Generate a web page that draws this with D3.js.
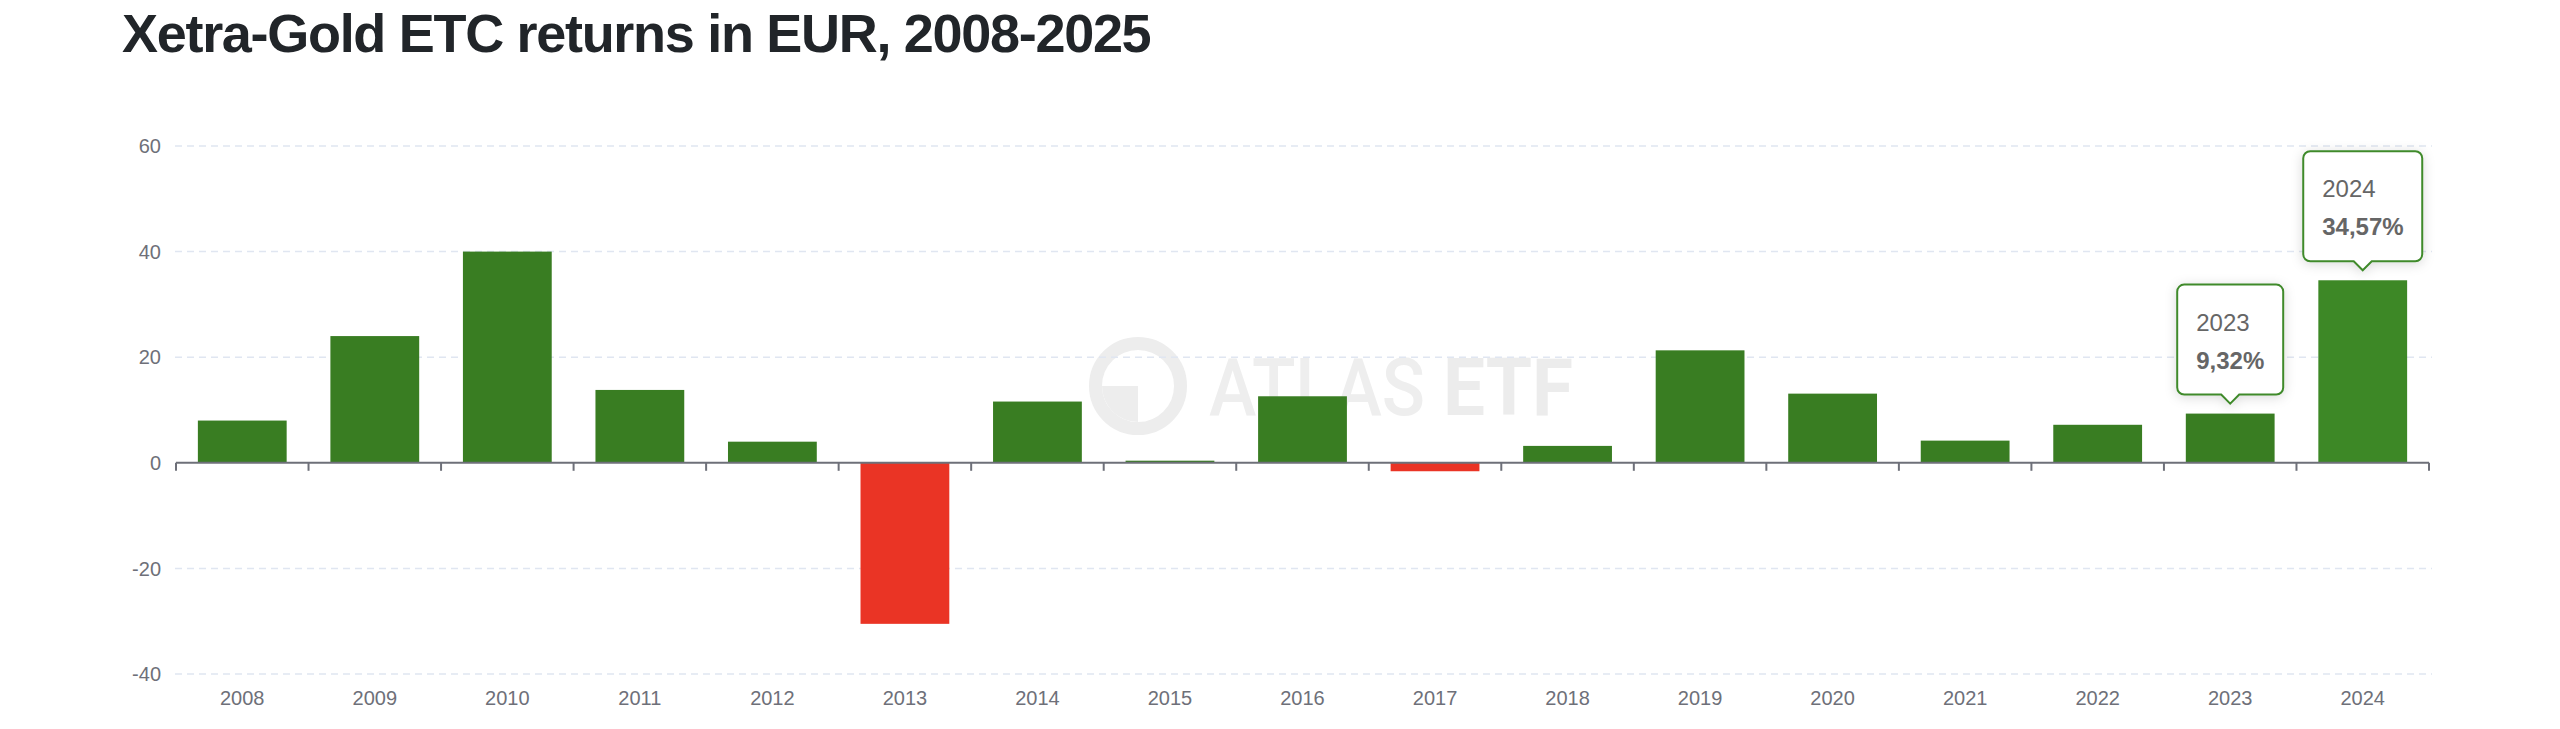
<!DOCTYPE html>
<html>
<head>
<meta charset="utf-8">
<script src="https://cdn.jsdelivr.net/npm/d3@7"></script>
<style>
  html, body { margin: 0; padding: 0; background: #fff; }
  svg { display: block; font-family: "Liberation Sans", Arial, Helvetica, sans-serif; }
</style>
</head>
<body>
<div id="chart"></div>
<script>
// yearly returns of Xetra-Gold in EUR
var years = ["2008", "2009", "2010", "2011", "2012", "2013", "2014", "2015", "2016",
             "2017", "2018", "2019", "2020", "2021", "2022", "2023", "2024"];
var returns = [8.0, 24.0, 40.0, 13.8, 4.0, -30.5, 11.6, 0.4, 12.6,
               -1.6, 3.2, 21.3, 13.1, 4.2, 7.2, 9.32, 34.57];
var yTicks = [-40, -20, 0, 20, 40, 60];
var tooltipYears = ["2023", "2024"];
var activeYear = "2024";

var W = 2560, H = 729;
var green = "#397d22", greenHover = "#3d8826", red = "#ea3425";
var labelColor = "#6e7079";

var svg = d3.select("#chart").append("svg")
    .attr("width", W)
    .attr("height", H);

var x = d3.scaleBand().domain(years).range([176, 2429]).padding(0);
var y = d3.scaleLinear().domain([-40, 60]).range([674, 146]);

// title
svg.append("text")
    .attr("x", 122)
    .attr("y", 52)
    .attr("fill", "#212529")
    .style("font-size", "54px")
    .style("font-weight", "bold")
    .style("letter-spacing", "-1.3px")
    .text("Xetra-Gold ETC returns in EUR, 2008-2025");

// watermark
var wm = svg.append("g").attr("class", "watermark");
wm.append("circle")
    .attr("cx", 1138).attr("cy", 386).attr("r", 42.5)
    .attr("fill", "none").attr("stroke", "#ededed").attr("stroke-width", 13);
wm.append("path")
    .attr("d", "M1138,386 L1102,386 A36,36 0 0 0 1138,422 Z")
    .attr("fill", "#ededed");
wm.append("text")
    .attr("x", 1209).attr("y", 415)
    .attr("fill", "#eeeeee")
    .attr("textLength", 216).attr("lengthAdjust", "spacingAndGlyphs")
    .style("font-family", "Roboto, sans-serif")
    .style("font-size", "80px").style("font-weight", 500)
    .text("ATLAS");
wm.append("text")
    .attr("x", 1443).attr("y", 415)
    .attr("fill", "#ececec")
    .attr("textLength", 130).attr("lengthAdjust", "spacingAndGlyphs")
    .style("font-family", "Roboto, sans-serif")
    .style("font-size", "80px").style("font-weight", 700)
    .text("ETF");

// grid lines
svg.append("g").selectAll("line")
    .data(yTicks.filter(function(d) { return d !== 0; }))
    .join("line")
    .attr("x1", 175).attr("x2", 2432)
    .attr("y1", function(d) { return y(d); })
    .attr("y2", function(d) { return y(d); })
    .attr("stroke", "#e0e6f1")
    .attr("stroke-width", 1.5)
    .attr("stroke-dasharray", "7,5");

// y labels
svg.append("g").selectAll("text")
    .data(yTicks)
    .join("text")
    .attr("x", 161)
    .attr("y", function(d) { return y(d); })
    .attr("dy", "0.36em")
    .attr("text-anchor", "end")
    .attr("fill", labelColor)
    .style("font-size", "20px")
    .text(function(d) { return d; });

// bars
var barW = x.bandwidth() * 0.67;
svg.append("g").selectAll("rect")
    .data(years)
    .join("rect")
    .attr("x", function(d) { return x(d) + (x.bandwidth() - barW) / 2; })
    .attr("width", barW)
    .attr("y", function(d, i) { return y(Math.max(0, returns[i])); })
    .attr("height", function(d, i) { return Math.abs(y(returns[i]) - y(0)); })
    .attr("fill", function(d, i) {
        if (returns[i] < 0) return red;
        return d === activeYear ? greenHover : green;
    });

// x axis
var xAxis = svg.append("g");
xAxis.append("line")
    .attr("x1", x.range()[0]).attr("x2", x.range()[1])
    .attr("y1", y(0)).attr("y2", y(0))
    .attr("stroke", labelColor).attr("stroke-width", 2);
var bounds = years.map(function(d) { return x(d); }).concat([x.range()[1]]);
xAxis.selectAll(".tick")
    .data(bounds)
    .join("line")
    .attr("class", "tick")
    .attr("x1", function(d) { return d; }).attr("x2", function(d) { return d; })
    .attr("y1", y(0)).attr("y2", y(0) + 8)
    .attr("stroke", labelColor).attr("stroke-width", 2);
xAxis.selectAll(".lbl")
    .data(years)
    .join("text")
    .attr("class", "lbl")
    .attr("x", function(d) { return x(d) + x.bandwidth() / 2; })
    .attr("y", 705)
    .attr("text-anchor", "middle")
    .attr("fill", labelColor)
    .style("font-size", "20px")
    .text(function(d) { return d; });

// tooltips
var defs = svg.append("defs");
var f = defs.append("filter").attr("id", "shadow")
    .attr("x", "-30%").attr("y", "-30%").attr("width", "160%").attr("height", "160%");
f.append("feDropShadow")
    .attr("dx", 0).attr("dy", 2).attr("stdDeviation", 6)
    .attr("flood-color", "#000").attr("flood-opacity", 0.15);

var fmt = function(v) { return v.toFixed(2).replace(".", ",") + "%"; };

tooltipYears.forEach(function(yr) {
    var i = years.indexOf(yr);
    var v = returns[i];
    var cx = x(yr) + x.bandwidth() / 2;
    var tip = y(v) - 10;
    var g = svg.append("g");
    var t1 = g.append("text").attr("fill", "#666")
        .style("font-size", "24px").text(yr);
    var t2 = g.append("text").attr("fill", "#666")
        .style("font-size", "24px").style("font-weight", "bold").text(fmt(v));
    var tw = Math.max(t1.node().getComputedTextLength(), t2.node().getComputedTextLength());
    var bw = Math.round(tw + 38), bh = 110, r = 7, ah = 9, aw = 9;
    var bx = cx - bw / 2, by = tip - ah - bh;
    var p = "M" + (bx + r) + "," + by +
        " H" + (bx + bw - r) + " A" + r + "," + r + " 0 0 1 " + (bx + bw) + "," + (by + r) +
        " V" + (by + bh - r) + " A" + r + "," + r + " 0 0 1 " + (bx + bw - r) + "," + (by + bh) +
        " H" + (cx + aw) + " L" + cx + "," + tip + " L" + (cx - aw) + "," + (by + bh) +
        " H" + (bx + r) + " A" + r + "," + r + " 0 0 1 " + bx + "," + (by + bh - r) +
        " V" + (by + r) + " A" + r + "," + r + " 0 0 1 " + (bx + r) + "," + by + " Z";
    g.insert("path", "text")
        .attr("d", p)
        .attr("fill", "#fff")
        .attr("stroke", "#3f8a2c")
        .attr("stroke-width", 2)
        .attr("filter", "url(#shadow)");
    t1.attr("x", bx + 19).attr("y", by + 46);
    t2.attr("x", bx + 19).attr("y", by + 84);
});
</script>
</body>
</html>
